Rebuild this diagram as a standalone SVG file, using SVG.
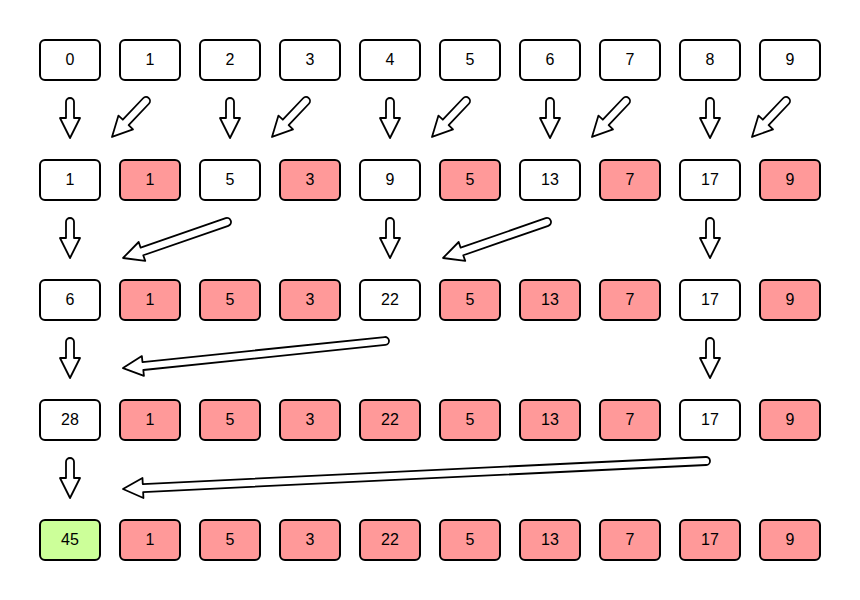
<svg xmlns="http://www.w3.org/2000/svg" width="860" height="600" viewBox="0 0 860 600">
<style>
.b{stroke:#000;stroke-width:2;fill:#fff}
.p{fill:#ff9999}
.g{fill:#ccff99}
text{font-family:"Liberation Sans",Arial,sans-serif;font-size:16px;text-anchor:middle;fill:#000}
.a{fill:#fff;stroke:#000;stroke-width:1.8;stroke-linejoin:round}
</style>
<rect width="860" height="600" fill="#fff"/>
<g id="connectors">
<path class="a" transform="translate(70,102) rotate(90)" d="M0,-4 L16,-4 L16,-10 L36,0 L16,10 L16,4 L0,4 A4,4 0 0 1 0,-4 Z"/>
<path class="a" transform="translate(230,102) rotate(90)" d="M0,-4 L16,-4 L16,-10 L36,0 L16,10 L16,4 L0,4 A4,4 0 0 1 0,-4 Z"/>
<path class="a" transform="translate(390,102) rotate(90)" d="M0,-4 L16,-4 L16,-10 L36,0 L16,10 L16,4 L0,4 A4,4 0 0 1 0,-4 Z"/>
<path class="a" transform="translate(550,102) rotate(90)" d="M0,-4 L16,-4 L16,-10 L36,0 L16,10 L16,4 L0,4 A4,4 0 0 1 0,-4 Z"/>
<path class="a" transform="translate(710,102) rotate(90)" d="M0,-4 L16,-4 L16,-10 L36,0 L16,10 L16,4 L0,4 A4,4 0 0 1 0,-4 Z"/>
<path class="a" transform="translate(146,101) rotate(133.4)" d="M0,-4 L29.5,-4 L29.5,-10 L49.5,0 L29.5,10 L29.5,4 L0,4 A4,4 0 0 1 0,-4 Z"/>
<path class="a" transform="translate(306,101) rotate(133.4)" d="M0,-4 L29.5,-4 L29.5,-10 L49.5,0 L29.5,10 L29.5,4 L0,4 A4,4 0 0 1 0,-4 Z"/>
<path class="a" transform="translate(466,101) rotate(133.4)" d="M0,-4 L29.5,-4 L29.5,-10 L49.5,0 L29.5,10 L29.5,4 L0,4 A4,4 0 0 1 0,-4 Z"/>
<path class="a" transform="translate(626,101) rotate(133.4)" d="M0,-4 L29.5,-4 L29.5,-10 L49.5,0 L29.5,10 L29.5,4 L0,4 A4,4 0 0 1 0,-4 Z"/>
<path class="a" transform="translate(786,101) rotate(133.4)" d="M0,-4 L29.5,-4 L29.5,-10 L49.5,0 L29.5,10 L29.5,4 L0,4 A4,4 0 0 1 0,-4 Z"/>
<path class="a" transform="translate(70,222) rotate(90)" d="M0,-4 L16,-4 L16,-10 L36,0 L16,10 L16,4 L0,4 A4,4 0 0 1 0,-4 Z"/>
<path class="a" transform="translate(390,222) rotate(90)" d="M0,-4 L16,-4 L16,-10 L36,0 L16,10 L16,4 L0,4 A4,4 0 0 1 0,-4 Z"/>
<path class="a" transform="translate(710,222) rotate(90)" d="M0,-4 L16,-4 L16,-10 L36,0 L16,10 L16,4 L0,4 A4,4 0 0 1 0,-4 Z"/>
<path class="a" transform="translate(227,222) rotate(160.9)" d="M0,-4 L90,-4 L90,-10 L110,0 L90,10 L90,4 L0,4 A4,4 0 0 1 0,-4 Z"/>
<path class="a" transform="translate(547,222) rotate(160.9)" d="M0,-4 L90,-4 L90,-10 L110,0 L90,10 L90,4 L0,4 A4,4 0 0 1 0,-4 Z"/>
<path class="a" transform="translate(70,342) rotate(90)" d="M0,-4 L16,-4 L16,-10 L36,0 L16,10 L16,4 L0,4 A4,4 0 0 1 0,-4 Z"/>
<path class="a" transform="translate(710,342) rotate(90)" d="M0,-4 L16,-4 L16,-10 L36,0 L16,10 L16,4 L0,4 A4,4 0 0 1 0,-4 Z"/>
<path class="a" transform="translate(385,341) rotate(174.1)" d="M0,-4 L243.4,-4 L243.4,-10 L263.4,0 L243.4,10 L243.4,4 L0,4 A4,4 0 0 1 0,-4 Z"/>
<path class="a" transform="translate(70,462) rotate(90)" d="M0,-4 L16,-4 L16,-10 L36,0 L16,10 L16,4 L0,4 A4,4 0 0 1 0,-4 Z"/>
<path class="a" transform="translate(706,461) rotate(177.25)" d="M0,-4 L563.7,-4 L563.7,-10 L583.7,0 L563.7,10 L563.7,4 L0,4 A4,4 0 0 1 0,-4 Z"/>
</g>
<g id="r0c0"><rect class="b" x="40" y="40" width="60" height="40" rx="5"/><text x="70" y="64.5">0</text></g>
<g id="r0c1"><rect class="b" x="120" y="40" width="60" height="40" rx="5"/><text x="150" y="64.5">1</text></g>
<g id="r0c2"><rect class="b" x="200" y="40" width="60" height="40" rx="5"/><text x="230" y="64.5">2</text></g>
<g id="r0c3"><rect class="b" x="280" y="40" width="60" height="40" rx="5"/><text x="310" y="64.5">3</text></g>
<g id="r0c4"><rect class="b" x="360" y="40" width="60" height="40" rx="5"/><text x="390" y="64.5">4</text></g>
<g id="r0c5"><rect class="b" x="440" y="40" width="60" height="40" rx="5"/><text x="470" y="64.5">5</text></g>
<g id="r0c6"><rect class="b" x="520" y="40" width="60" height="40" rx="5"/><text x="550" y="64.5">6</text></g>
<g id="r0c7"><rect class="b" x="600" y="40" width="60" height="40" rx="5"/><text x="630" y="64.5">7</text></g>
<g id="r0c8"><rect class="b" x="680" y="40" width="60" height="40" rx="5"/><text x="710" y="64.5">8</text></g>
<g id="r0c9"><rect class="b" x="760" y="40" width="60" height="40" rx="5"/><text x="790" y="64.5">9</text></g>

<g id="r1c0"><rect class="b" x="40" y="160" width="60" height="40" rx="5"/><text x="70" y="184.5">1</text></g>
<g id="r1c1"><rect class="b p" x="120" y="160" width="60" height="40" rx="5"/><text x="150" y="184.5">1</text></g>
<g id="r1c2"><rect class="b" x="200" y="160" width="60" height="40" rx="5"/><text x="230" y="184.5">5</text></g>
<g id="r1c3"><rect class="b p" x="280" y="160" width="60" height="40" rx="5"/><text x="310" y="184.5">3</text></g>
<g id="r1c4"><rect class="b" x="360" y="160" width="60" height="40" rx="5"/><text x="390" y="184.5">9</text></g>
<g id="r1c5"><rect class="b p" x="440" y="160" width="60" height="40" rx="5"/><text x="470" y="184.5">5</text></g>
<g id="r1c6"><rect class="b" x="520" y="160" width="60" height="40" rx="5"/><text x="550" y="184.5">13</text></g>
<g id="r1c7"><rect class="b p" x="600" y="160" width="60" height="40" rx="5"/><text x="630" y="184.5">7</text></g>
<g id="r1c8"><rect class="b" x="680" y="160" width="60" height="40" rx="5"/><text x="710" y="184.5">17</text></g>
<g id="r1c9"><rect class="b p" x="760" y="160" width="60" height="40" rx="5"/><text x="790" y="184.5">9</text></g>

<g id="r2c0"><rect class="b" x="40" y="280" width="60" height="40" rx="5"/><text x="70" y="304.5">6</text></g>
<g id="r2c1"><rect class="b p" x="120" y="280" width="60" height="40" rx="5"/><text x="150" y="304.5">1</text></g>
<g id="r2c2"><rect class="b p" x="200" y="280" width="60" height="40" rx="5"/><text x="230" y="304.5">5</text></g>
<g id="r2c3"><rect class="b p" x="280" y="280" width="60" height="40" rx="5"/><text x="310" y="304.5">3</text></g>
<g id="r2c4"><rect class="b" x="360" y="280" width="60" height="40" rx="5"/><text x="390" y="304.5">22</text></g>
<g id="r2c5"><rect class="b p" x="440" y="280" width="60" height="40" rx="5"/><text x="470" y="304.5">5</text></g>
<g id="r2c6"><rect class="b p" x="520" y="280" width="60" height="40" rx="5"/><text x="550" y="304.5">13</text></g>
<g id="r2c7"><rect class="b p" x="600" y="280" width="60" height="40" rx="5"/><text x="630" y="304.5">7</text></g>
<g id="r2c8"><rect class="b" x="680" y="280" width="60" height="40" rx="5"/><text x="710" y="304.5">17</text></g>
<g id="r2c9"><rect class="b p" x="760" y="280" width="60" height="40" rx="5"/><text x="790" y="304.5">9</text></g>

<g id="r3c0"><rect class="b" x="40" y="400" width="60" height="40" rx="5"/><text x="70" y="424.5">28</text></g>
<g id="r3c1"><rect class="b p" x="120" y="400" width="60" height="40" rx="5"/><text x="150" y="424.5">1</text></g>
<g id="r3c2"><rect class="b p" x="200" y="400" width="60" height="40" rx="5"/><text x="230" y="424.5">5</text></g>
<g id="r3c3"><rect class="b p" x="280" y="400" width="60" height="40" rx="5"/><text x="310" y="424.5">3</text></g>
<g id="r3c4"><rect class="b p" x="360" y="400" width="60" height="40" rx="5"/><text x="390" y="424.5">22</text></g>
<g id="r3c5"><rect class="b p" x="440" y="400" width="60" height="40" rx="5"/><text x="470" y="424.5">5</text></g>
<g id="r3c6"><rect class="b p" x="520" y="400" width="60" height="40" rx="5"/><text x="550" y="424.5">13</text></g>
<g id="r3c7"><rect class="b p" x="600" y="400" width="60" height="40" rx="5"/><text x="630" y="424.5">7</text></g>
<g id="r3c8"><rect class="b" x="680" y="400" width="60" height="40" rx="5"/><text x="710" y="424.5">17</text></g>
<g id="r3c9"><rect class="b p" x="760" y="400" width="60" height="40" rx="5"/><text x="790" y="424.5">9</text></g>

<g id="r4c0"><rect class="b g" x="40" y="520" width="60" height="40" rx="5"/><text x="70" y="544.5">45</text></g>
<g id="r4c1"><rect class="b p" x="120" y="520" width="60" height="40" rx="5"/><text x="150" y="544.5">1</text></g>
<g id="r4c2"><rect class="b p" x="200" y="520" width="60" height="40" rx="5"/><text x="230" y="544.5">5</text></g>
<g id="r4c3"><rect class="b p" x="280" y="520" width="60" height="40" rx="5"/><text x="310" y="544.5">3</text></g>
<g id="r4c4"><rect class="b p" x="360" y="520" width="60" height="40" rx="5"/><text x="390" y="544.5">22</text></g>
<g id="r4c5"><rect class="b p" x="440" y="520" width="60" height="40" rx="5"/><text x="470" y="544.5">5</text></g>
<g id="r4c6"><rect class="b p" x="520" y="520" width="60" height="40" rx="5"/><text x="550" y="544.5">13</text></g>
<g id="r4c7"><rect class="b p" x="600" y="520" width="60" height="40" rx="5"/><text x="630" y="544.5">7</text></g>
<g id="r4c8"><rect class="b p" x="680" y="520" width="60" height="40" rx="5"/><text x="710" y="544.5">17</text></g>
<g id="r4c9"><rect class="b p" x="760" y="520" width="60" height="40" rx="5"/><text x="790" y="544.5">9</text></g>
</svg>
